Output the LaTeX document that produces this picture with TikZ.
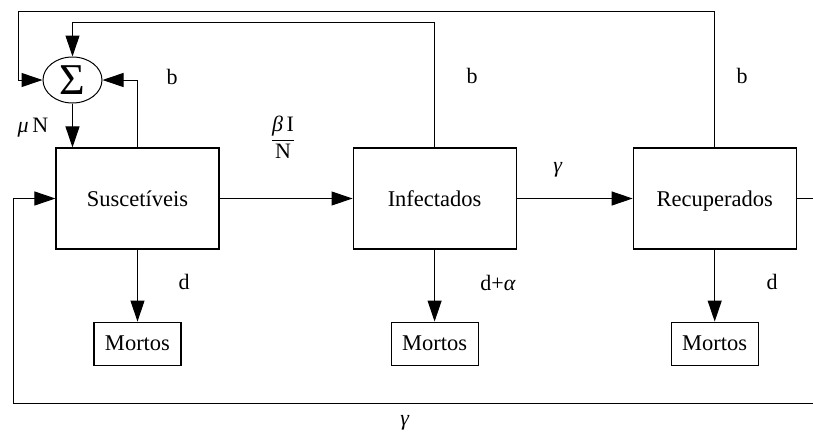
\documentclass[tikz,border=0pt]{standalone}
\usepackage{fontspec}
\setmainfont{Liberation Serif}
\usetikzlibrary{shapes.geometric, arrows.meta, positioning}

\begin{document}
\begin{tikzpicture}[
  x=1pt, y=-1pt,
  stage/.style={rectangle, draw, line width=1.1pt, minimum width=163pt,
                minimum height=101pt, text height=16pt, text depth=1pt,
                font=\fontsize{22.5}{26}\selectfont},
  dead/.style={rectangle, draw, line width=1.1pt, minimum width=87pt,
               minimum height=43pt, inner sep=2pt, font=\fontsize{22.5}{26}\selectfont},
  summer/.style={ellipse, draw, line width=1pt, minimum width=59pt,
                 minimum height=46pt, inner sep=0pt, font=\fontsize{44}{44}\selectfont},
  rate/.style={font=\fontsize{22}{26}\selectfont},
  arrow/.style={-{Triangle[length=21pt, width=14pt]}, line width=1pt},
]
\clip (0,0) rectangle (813,432);

\node[summer] (sum) at (72.5,80) {Σ};
\node[stage] (sus) at (137.5,198.5) {Suscetíveis};
\node[stage, right=133pt of sus] (inf) {Infectados};
\node[stage, right=116pt of inf] (rec) {Recuperados};

\node[dead, below=72pt of sus] (msus) {Mortos};
\node[dead, below=72pt of inf] (minf) {Mortos};
\node[dead, below=72pt of rec] (mrec) {Mortos};

% rates
\node[rate] (bsus) at (172,77) {b};
\node[rate] (binf) at (472,76) {b};
\node[rate] (brec) at (742,76) {b};
\node[rate] (mun)  at (33,128) {\textit{μ}\,N};
\node[rate] (beta) at (283,140) {\setlength{\arrayrulewidth}{1pt}%
  \begin{tabular}{@{}c@{}}\textit{β}\,I\\\hline N\end{tabular}};
\node[rate] (gsr)  at (558,170) {\textit{γ}};
\node[rate] (dsus) at (184,282) {d};
\node[rate] (dinf) at (498,283) {d+\textit{α}};
\node[rate] (drec) at (772,282) {d};
\node[rate, anchor=south, inner sep=1pt] (gback) at (405,431) {\textit{γ}};

\draw[arrow] (sum) -- (sum |- sus.north);
\draw[arrow] (sus.north) |- (sum);
\draw[arrow] (inf.north) -- ++(0,-125) -| (sum);
\draw[arrow] (rec.north) |- (18,11) |- (sum);

\draw[arrow] (sus) -- (inf);
\draw[arrow] (inf) -- (rec);
\draw[arrow] (rec.east) -- ++(30,0) |- (13,403) |- (sus);

\draw[arrow] (sus) -- (msus);
\draw[arrow] (inf) -- (minf);
\draw[arrow] (rec) -- (mrec);

\end{tikzpicture}
\end{document}
